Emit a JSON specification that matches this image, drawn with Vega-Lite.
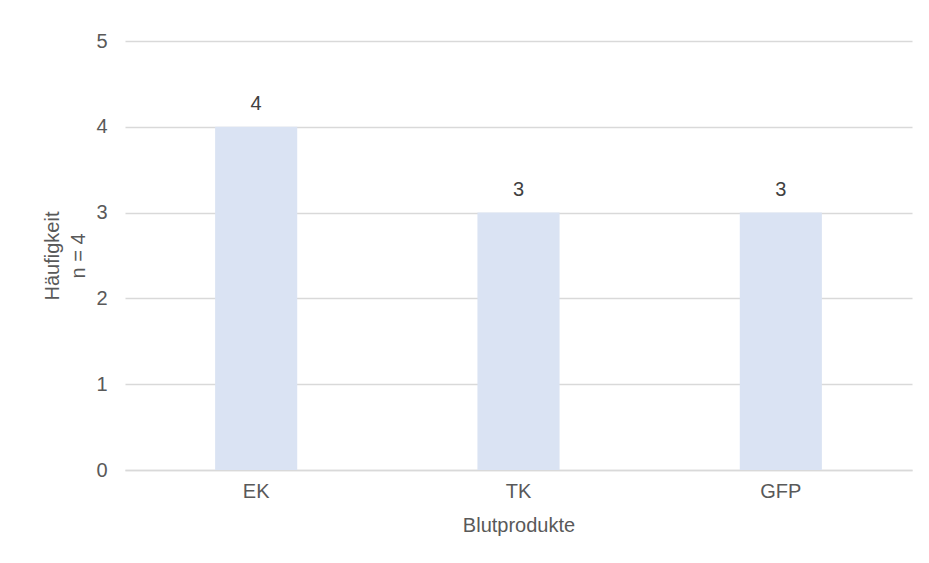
{
  "$schema": "https://vega.github.io/schema/vega-lite/v6.json",
  "width": 787,
  "height": 429,
  "autosize": {"type": "none"},
  "padding": {"left": 125, "top": 41, "right": 17, "bottom": 93},
  "background": "white",
  "config": {
    "font": "Liberation Sans",
    "view": {"stroke": null},
    "axis": {
      "labelFont": "Liberation Sans",
      "titleFont": "Liberation Sans",
      "labelColor": "#595959",
      "titleColor": "#595959",
      "labelFontSize": 20,
      "titleFontSize": 20,
      "titleFontWeight": "normal"
    }
  },
  "data": {
    "values": [
      {"produkt": "EK", "n": 4},
      {"produkt": "TK", "n": 3},
      {"produkt": "GFP", "n": 3}
    ]
  },
  "encoding": {
    "x": {
      "field": "produkt",
      "type": "nominal",
      "sort": null,
      "scale": {"paddingInner": 0.687, "paddingOuter": 0.3435},
      "axis": {
        "title": "Blutprodukte",
        "labelAngle": 0,
        "ticks": false,
        "domainColor": "#d9d9d9",
        "domainWidth": 1.5,
        "labelPadding": 11,
        "titlePadding": 14
      }
    },
    "y": {
      "field": "n",
      "type": "quantitative",
      "scale": {"domain": [0, 5]},
      "axis": {
        "title": ["Häufigkeit", "n = 4"],
        "values": [0, 1, 2, 3, 4, 5],
        "ticks": false,
        "domain": false,
        "gridColor": "#d9d9d9",
        "gridWidth": 1.5,
        "labelPadding": 18,
        "titlePadding": 7,
        "titleLineHeight": 26
      }
    }
  },
  "layer": [
    {"mark": {"type": "bar", "color": "#dae3f3"}},
    {
      "mark": {"type": "text", "baseline": "alphabetic", "dy": -17, "fontSize": 20, "color": "#404040", "font": "Liberation Sans"},
      "encoding": {"text": {"field": "n", "type": "quantitative"}}
    }
  ]
}
